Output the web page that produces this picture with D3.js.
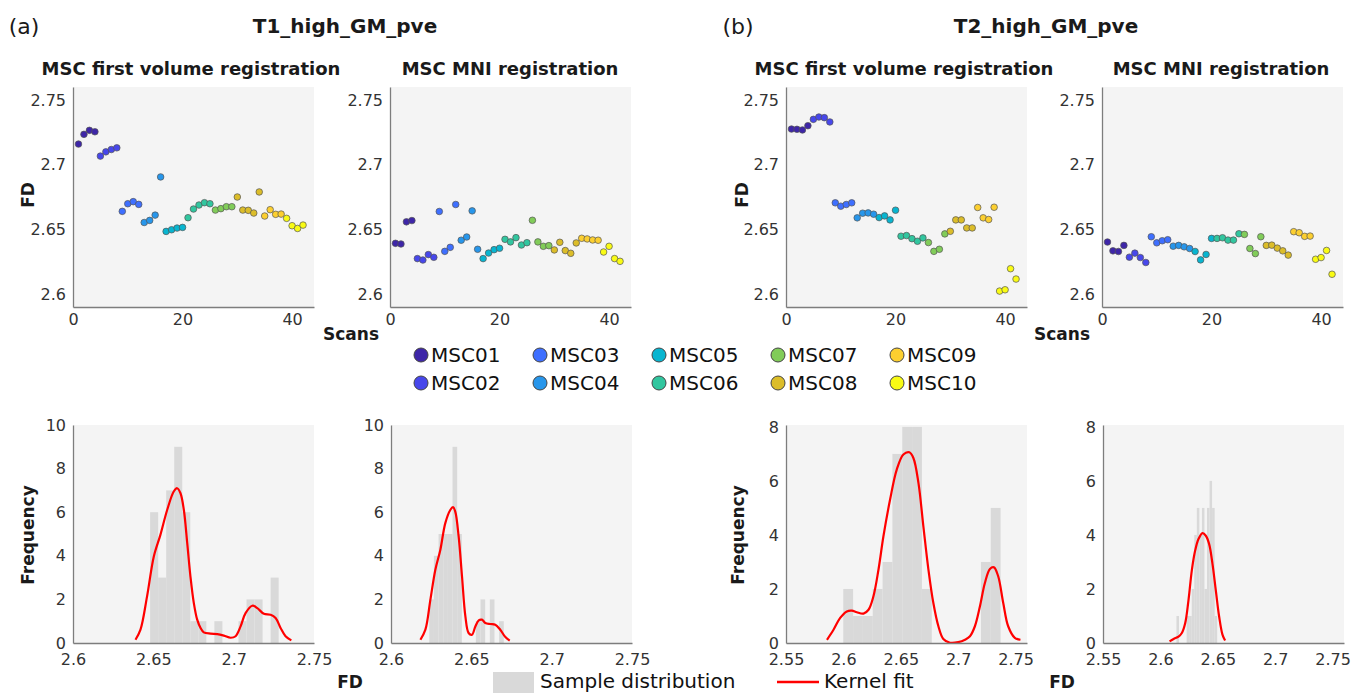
<!DOCTYPE html>
<html>
<head>
<meta charset="utf-8">
<script src="https://cdn.jsdelivr.net/npm/d3@7"></script>
<style>
  body { margin: 0; background: #fff; }
  text { font-family: "DejaVu Sans", sans-serif; }
</style>
</head>
<body>
<div id="fig"></div>
<script>
// subjects and how many scans each contributes (scans are numbered 1..42)
const subjects = ["MSC01","MSC02","MSC03","MSC04","MSC05","MSC06","MSC07","MSC08","MSC09","MSC10"];
const subjectColors = ["#3e26a8","#4747eb","#3e6fff","#2796eb","#08b5d0","#31c69f","#81cc59","#dcbd29","#fccf30","#f9fb14"];
const scansPerSubject = [4,4,4,4,4,5,4,5,4,4];

// FD per scan
const t1FirstVol = [2.7159,2.7234,2.7265,2.7254, 2.7066,2.7099,2.7117,2.7130, 2.6639,2.6698,2.6714,2.6693,
  2.6553,2.6569,2.6610,2.6905, 2.6484,2.6497,2.6510,2.6515, 2.6590,2.6657,2.6688,2.6706,2.6698,
  2.6649,2.6660,2.6675,2.6675, 2.6750,2.6649,2.6647,2.6626,2.6789, 2.6603,2.6652,2.6616,2.6618,
  2.6585,2.6528,2.6507,2.6533];
const t1MNI = [2.6392,2.6387,2.6558,2.6568, 2.6274,2.6263,2.6305,2.6284, 2.6638,2.6330,2.6361,2.6692,
  2.6416,2.6441,2.6643,2.6346, 2.6274,2.6317,2.6343,2.6354, 2.6423,2.6403,2.6436,2.6379,2.6397,
  2.6570,2.6403,2.6369,2.6374, 2.6341,2.6400,2.6336,2.6315,2.6395, 2.6431,2.6426,2.6418,2.6416,
  2.6325,2.6369,2.6274,2.6253];
const t2FirstVol = [2.7275,2.7273,2.7268,2.7301, 2.7350,2.7368,2.7363,2.7330, 2.6705,2.6679,2.6692,2.6705,
  2.6589,2.6625,2.6627,2.6617, 2.6591,2.6604,2.6573,2.6648, 2.6447,2.6452,2.6428,2.6408,2.6434,
  2.6398,2.6330,2.6346,2.6465, 2.6485,2.6573,2.6573,2.6511,2.6511, 2.6669,2.6589,2.6576,2.6671,
  2.6023,2.6033,2.6196,2.6116];
const t2MNI = [2.6402,2.6334,2.6329,2.6376, 2.6285,2.6316,2.6282,2.6244, 2.6443,2.6396,2.6412,2.6420,
  2.6370,2.6376,2.6365,2.6352, 2.6329,2.6264,2.6306,2.6430, 2.6430,2.6435,2.6417,2.6417,2.6466,
  2.6461,2.6352,2.6313,2.6443, 2.6376,2.6378,2.6355,2.6334,2.6301, 2.6482,2.6474,2.6446,2.6448,
  2.6269,2.6282,2.6337,2.6153];

// histograms: FD range covered by the bins, and counts per bin
const t1FirstVolHistRange = [2.648, 2.728];
const t1FirstVolHistCounts = [6,3,7,9,6,1,1,0,1,0,0,1,2,2,0,3];
const t1MNIHistRange = [2.6238, 2.6702];
const t1MNIHistCounts = [2,4,5,5,5,9,5,0,0,0,1,2,0,2,0,1];
const t2FirstVolHistRange = [2.5999, 2.737];
const t2FirstVolHistCounts = [2,1,1,2,3,7,8,8,2,0,0,0,0,0,3,5];
const t2MNIHistRange = [2.614, 2.6495];
const t2MNIHistCounts = [1,0,0,0,1,1,2,4,5,4,5,2,5,6,5,1];

// kernel fits [FD, frequency]
const t1FirstVolKernel = [[2.6389,0.15],[2.6420,0.61],[2.6461,2.14],[2.6503,3.97],[2.6544,4.96],[2.6586,6.10],
  [2.6627,6.95],[2.6648,7.10],[2.6669,6.87],[2.6690,6.10],[2.6711,4.58],[2.6731,3.05],[2.6752,1.83],
  [2.6773,1.07],[2.6794,0.69],[2.6814,0.49],[2.6856,0.43],[2.6898,0.41],[2.6939,0.34],[2.6981,0.24],
  [2.7012,0.31],[2.7043,0.76],[2.7074,1.37],[2.7116,1.71],[2.7147,1.60],[2.7188,1.34],[2.7230,1.30],
  [2.7261,1.15],[2.7292,0.69],[2.7323,0.31],[2.7359,0.12]];
const t1MNIKernel = [[2.6183,0.15],[2.6214,0.61],[2.6245,1.98],[2.6276,3.36],[2.6307,4.27],[2.6338,5.50],
  [2.6369,6.10],[2.6386,6.23],[2.6400,6.03],[2.6421,4.89],[2.6442,3.05],[2.6463,1.22],[2.6483,0.46],
  [2.6504,0.38],[2.6525,0.76],[2.6546,1.04],[2.6566,1.07],[2.6587,0.92],[2.6618,0.87],[2.6649,0.84],
  [2.6680,0.61],[2.6712,0.27],[2.6739,0.11]];
const t2FirstVolKernel = [[2.5857,0.12],[2.5914,0.49],[2.5972,0.93],[2.6030,1.17],[2.6074,1.20],[2.6117,1.14],
  [2.6175,1.09],[2.6219,1.23],[2.6262,1.73],[2.6306,2.72],[2.6349,3.95],[2.6407,5.31],[2.6465,6.42],
  [2.6523,6.98],[2.6575,7.06],[2.6610,6.85],[2.6654,5.93],[2.6697,4.32],[2.6741,2.72],[2.6784,1.48],
  [2.6828,0.62],[2.6871,0.15],[2.6929,0.01],[2.7001,0.03],[2.7060,0.12],[2.7103,0.25],[2.7146,0.62],
  [2.7190,1.36],[2.7233,2.22],[2.7277,2.74],[2.7312,2.80],[2.7349,2.47],[2.7393,1.48],[2.7436,0.62],
  [2.7494,0.19],[2.7543,0.12]];
const t2MNIKernel = [[2.6080,0.06],[2.6115,0.15],[2.6158,0.24],[2.6187,0.37],[2.6216,0.73],[2.6245,1.59],
  [2.6274,2.69],[2.6303,3.42],[2.6332,3.85],[2.6367,4.07],[2.6396,3.97],[2.6425,3.66],[2.6454,2.93],
  [2.6483,1.95],[2.6512,0.98],[2.6541,0.31],[2.6564,0.09]];

// tick labels
const scanTicks = [0,20,40];
const fdTicks = [2.6,2.65,2.7,2.75];
const histTicksA = [2.6,2.65,2.7,2.75];
const histTicksB = [2.55,2.6,2.65,2.7,2.75];
const freqTicksA = [0,2,4,6,8,10];
const freqTicksB = [0,2,4,6,8];

// ---------------------------------------------------------------
const W = 1363, H = 693;
const panelW = 241;
const scatterTop = 87, scatterH = 220;
const histTop = 425, histH = 218;
const bg = "#f4f4f4";

const svg = d3.select("#fig").append("svg")
  .attr("width", W).attr("height", H);

// subject index for every scan
const subjectIdx = [];
scansPerSubject.forEach((n, s) => { for (let k = 0; k < n; k++) subjectIdx.push(s); });

function styleAxis(g) {
  g.select(".domain").attr("stroke", "#7d7d7d").attr("stroke-width", 1.3);
  g.selectAll("text").attr("fill", "#333").style("font-size", "16px");
}

function scatterPanel(left, values) {
  const x = d3.scaleLinear().domain([0, 44]).range([left, left + panelW]);
  const y = d3.scaleLinear().domain([2.59, 2.76]).range([scatterTop + scatterH, scatterTop]);
  const g = svg.append("g");
  g.append("rect").attr("x", left).attr("y", scatterTop)
    .attr("width", panelW).attr("height", scatterH).attr("fill", bg);

  g.append("g").attr("transform", "translate(0," + (scatterTop + scatterH) + ")")
    .call(d3.axisBottom(x).tickValues(scanTicks).tickSize(0).tickPadding(7).tickFormat(d => d))
    .call(styleAxis);
  g.append("g").attr("transform", "translate(" + left + ",0)")
    .call(d3.axisLeft(y).tickValues(fdTicks).tickSize(0).tickPadding(7).tickFormat(d => d))
    .call(styleAxis);

  g.selectAll("circle.pt").data(values).join("circle")
    .attr("class", "pt")
    .attr("cx", (d, i) => x(i + 1))
    .attr("cy", d => y(d))
    .attr("r", 3.3)
    .attr("fill", (d, i) => subjectColors[subjectIdx[i]])
    .attr("stroke", "#555")
    .attr("stroke-width", 0.7);
}

function histPanel(left, xDomain, yDomain, xTicks, yTicks, range, counts, kernel) {
  const x = d3.scaleLinear().domain(xDomain).range([left, left + panelW]);
  const y = d3.scaleLinear().domain(yDomain).range([histTop + histH, histTop]);
  const g = svg.append("g");
  g.append("rect").attr("x", left).attr("y", histTop)
    .attr("width", panelW).attr("height", histH).attr("fill", bg);

  const bw = (range[1] - range[0]) / counts.length;
  g.selectAll("rect.bar").data(counts).join("rect")
    .attr("class", "bar")
    .attr("x", (d, i) => x(range[0] + i * bw))
    .attr("width", (d, i) => x(range[0] + (i + 1) * bw) - x(range[0] + i * bw))
    .attr("y", d => y(d))
    .attr("height", d => y(0) - y(d))
    .attr("fill", "#d9d9d9");

  g.append("path").datum(kernel)
    .attr("d", d3.line().x(d => x(d[0])).y(d => y(d[1])).curve(d3.curveCatmullRom))
    .attr("fill", "none").attr("stroke", "#ff0000").attr("stroke-width", 2.2);

  g.append("g").attr("transform", "translate(0," + (histTop + histH) + ")")
    .call(d3.axisBottom(x).tickValues(xTicks).tickSize(0).tickPadding(11).tickFormat(d => d))
    .call(styleAxis);
  g.append("g").attr("transform", "translate(" + left + ",0)")
    .call(d3.axisLeft(y).tickValues(yTicks).tickSize(0).tickPadding(7).tickFormat(d => d))
    .call(styleAxis);
}

scatterPanel(73, t1FirstVol);
scatterPanel(390, t1MNI);
scatterPanel(786, t2FirstVol);
scatterPanel(1102, t2MNI);

histPanel(73, [2.6, 2.75], [0, 10], histTicksA, freqTicksA, t1FirstVolHistRange, t1FirstVolHistCounts, t1FirstVolKernel);
histPanel(391, [2.6, 2.75], [0, 10], histTicksA, freqTicksA, t1MNIHistRange, t1MNIHistCounts, t1MNIKernel);
histPanel(786, [2.55, 2.76], [0, 8.07], histTicksB, freqTicksB, t2FirstVolHistRange, t2FirstVolHistCounts, t2FirstVolKernel);
histPanel(1103, [2.55, 2.76], [0, 8.07], histTicksB, freqTicksB, t2MNIHistRange, t2MNIHistCounts, t2MNIKernel);

// titles and labels
function label(txt, x, y, size, weight, rotate) {
  const t = svg.append("text").text(txt)
    .attr("text-anchor", "middle").attr("dominant-baseline", "central")
    .attr("fill", "#1a1a1a").style("font-size", size + "px").style("font-weight", weight);
  if (rotate) t.attr("transform", "translate(" + x + "," + y + ") rotate(-90)");
  else t.attr("x", x).attr("y", y);
}
label("(a)", 24, 26, 22, "normal");
label("(b)", 738, 26, 22, "normal");
label("T1_high_GM_pve", 345, 26, 20, "bold");
label("T2_high_GM_pve", 1046, 26, 20, "bold");
label("MSC first volume registration", 191, 68, 18, "bold");
label("MSC MNI registration", 510, 68, 18, "bold");
label("MSC first volume registration", 904, 68, 18, "bold");
label("MSC MNI registration", 1221, 68, 18, "bold");
label("FD", 28, 195, 17, "bold", true);
label("FD", 742, 195, 17, "bold", true);
label("Scans", 351, 334, 17, "bold");
label("Scans", 1062, 334, 17, "bold");
label("Frequency", 28, 535, 17, "bold", true);
label("Frequency", 738, 535, 17, "bold", true);
label("FD", 350, 682, 17, "bold");
label("FD", 1062, 682, 17, "bold");

// subject legend, two rows, filled column by column
const leg = svg.append("g");
const item = leg.selectAll("g").data(subjects).join("g")
  .attr("transform", (d, i) => "translate(" + (421 + 119 * Math.floor(i / 2)) + "," + (355 + 28 * (i % 2)) + ")");
item.append("circle").attr("r", 7).attr("fill", (d, i) => subjectColors[i])
  .attr("stroke", "#444").attr("stroke-width", 1);
item.append("text").text(d => d).attr("x", 10).attr("dominant-baseline", "central")
  .attr("fill", "#111").style("font-size", "20px");

// histogram legend
svg.append("rect").attr("x", 493).attr("y", 672).attr("width", 41).attr("height", 21).attr("fill", "#d9d9d9");
svg.append("text").text("Sample distribution").attr("x", 540).attr("y", 681)
  .attr("dominant-baseline", "central").attr("fill", "#111").style("font-size", "20px");
svg.append("line").attr("x1", 777).attr("x2", 819).attr("y1", 682).attr("y2", 682)
  .attr("stroke", "#ff0000").attr("stroke-width", 2.5);
svg.append("text").text("Kernel fit").attr("x", 824).attr("y", 681)
  .attr("dominant-baseline", "central").attr("fill", "#111").style("font-size", "20px");
</script>
</body>
</html>
